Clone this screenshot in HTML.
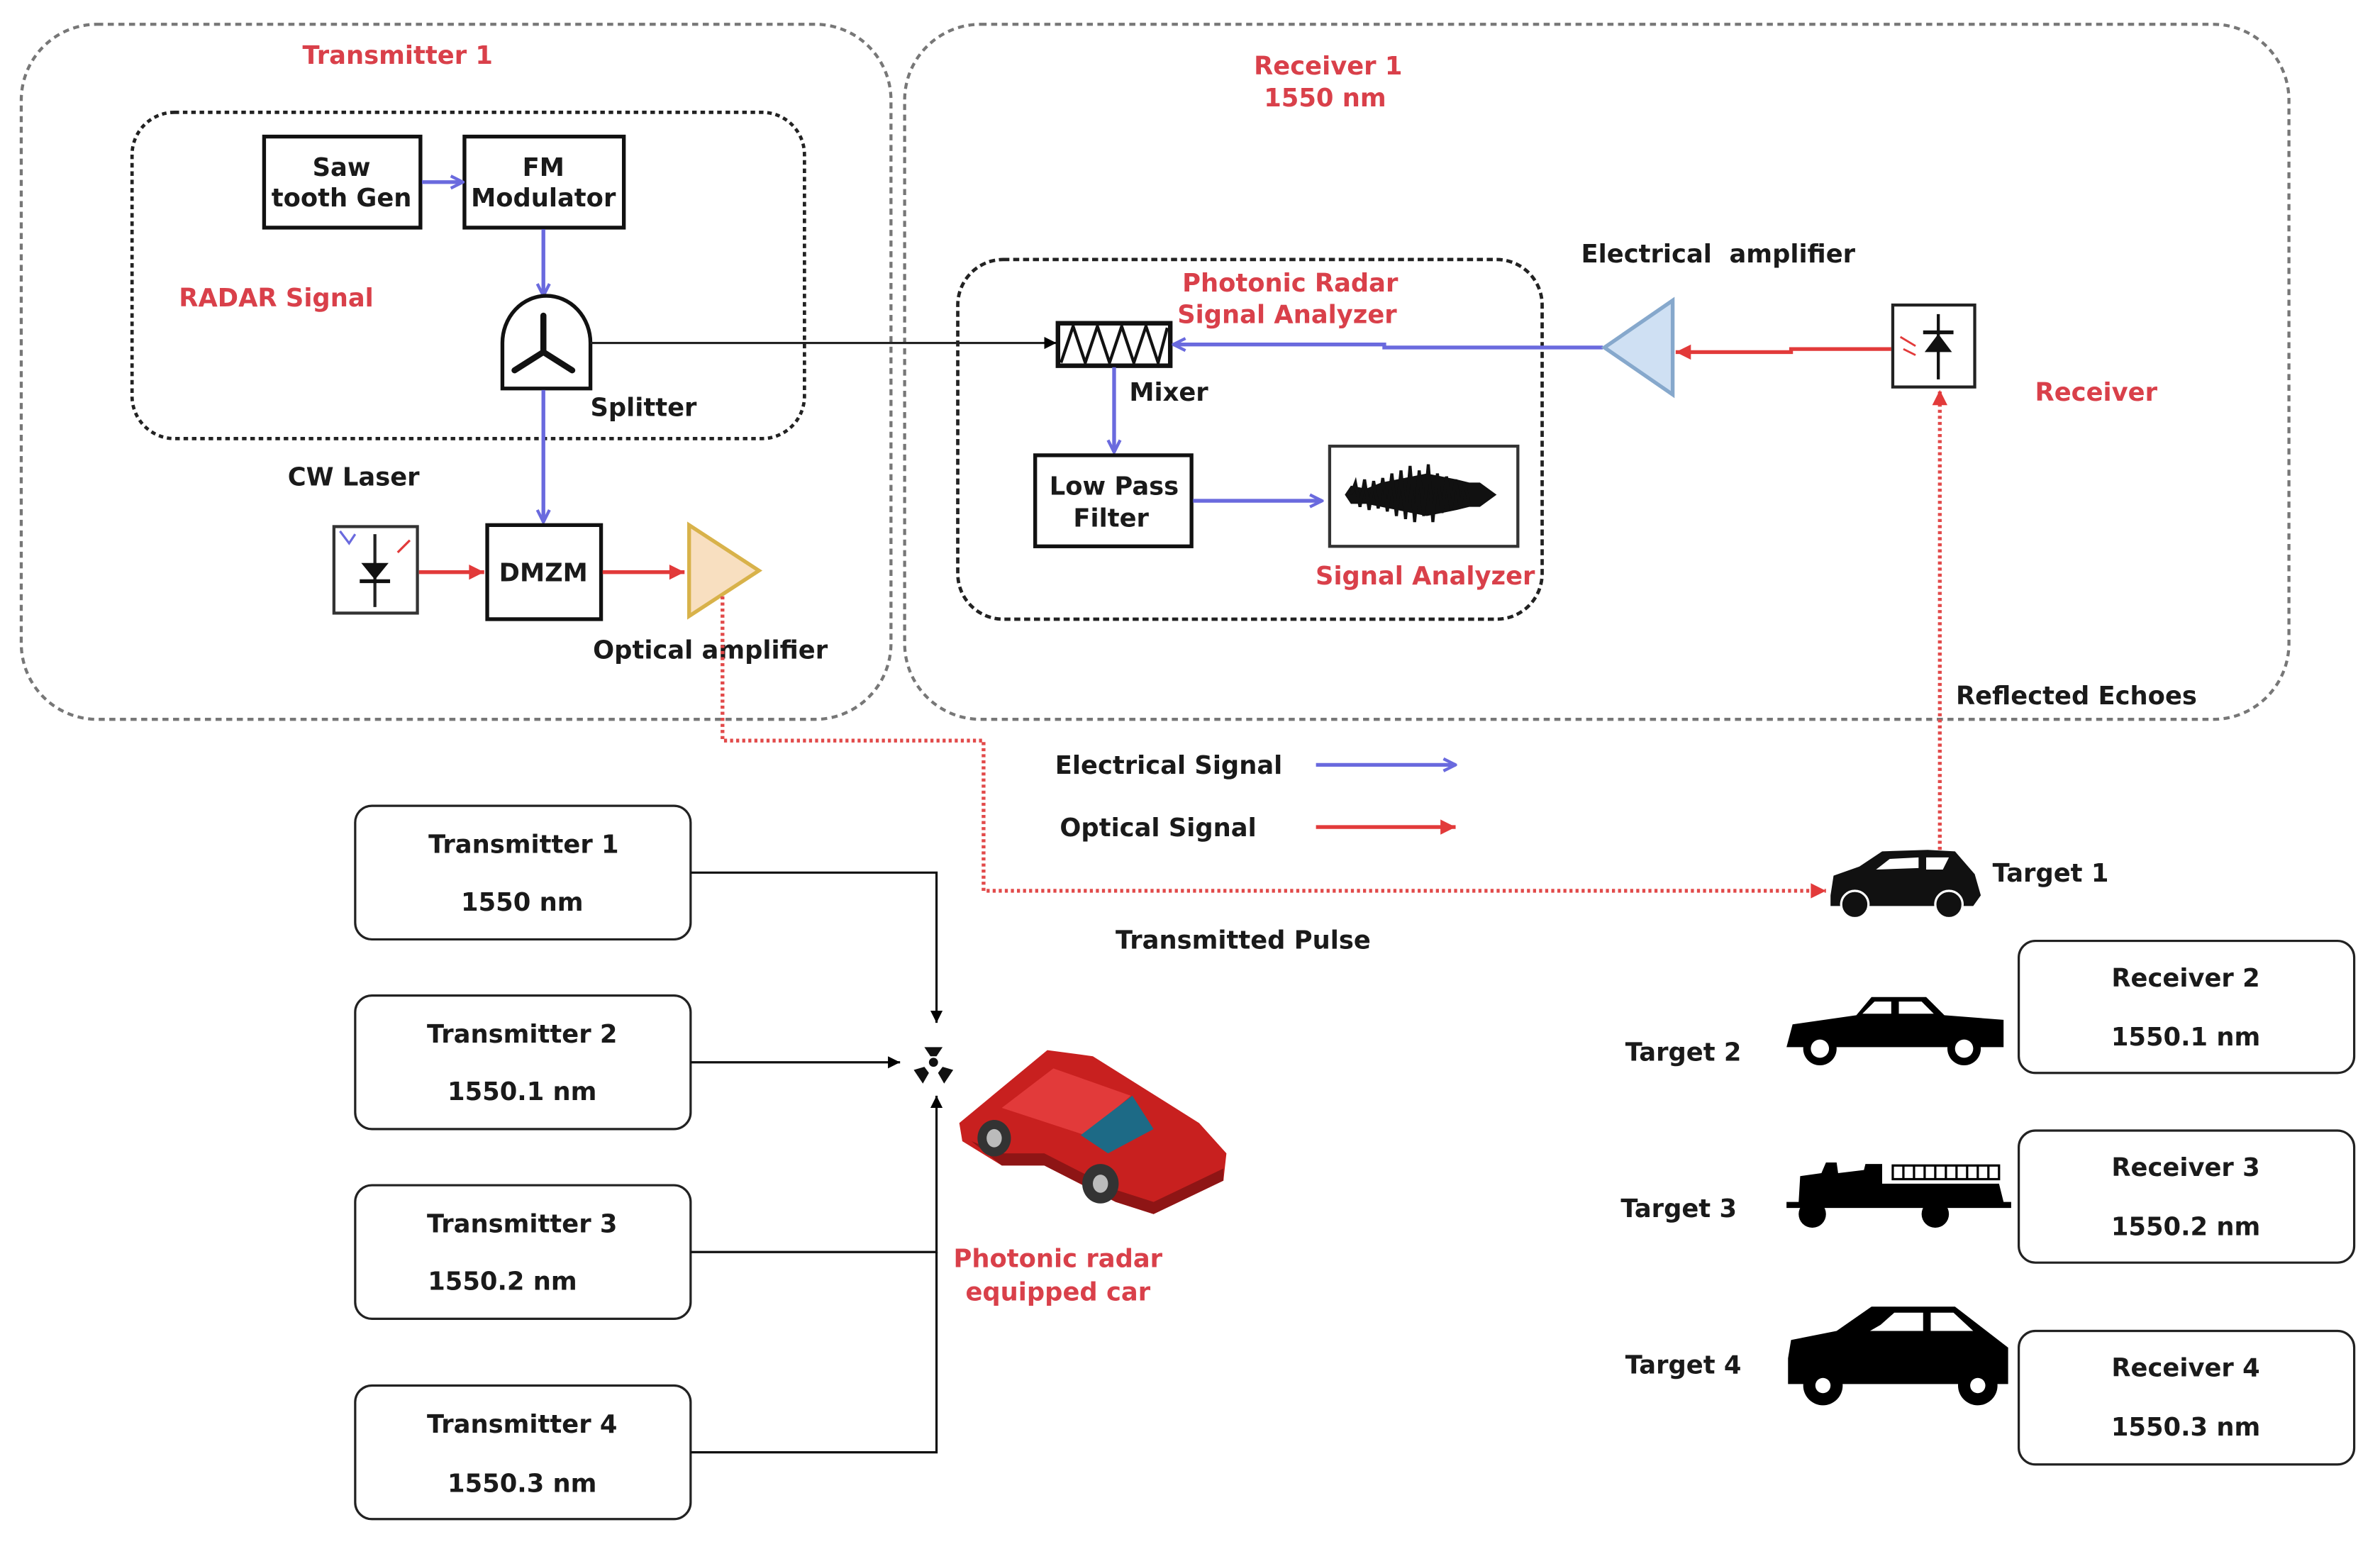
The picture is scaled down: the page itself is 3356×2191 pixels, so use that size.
<!DOCTYPE html>
<html><head><meta charset="utf-8"><style>
html,body{margin:0;padding:0;background:#fff;}
svg{display:block;}
text{font-family:"DejaVu Sans","Liberation Sans",sans-serif;font-weight:bold;font-size:16.5px;fill:#1a1a1a;}
.r{fill:#d9404a;}
</style></head><body>
<svg width="3356" height="2191" viewBox="0 0 1568 1024" preserveAspectRatio="none" xmlns="http://www.w3.org/2000/svg">
<defs>
<marker id="ab" markerWidth="10" markerHeight="10" refX="9" refY="5" orient="auto" markerUnits="userSpaceOnUse"><path d="M1,1 L9,5 L1,9" fill="none" stroke="#6a6ade" stroke-width="2"/></marker>
<marker id="ar" markerWidth="12" markerHeight="12" refX="11" refY="6" orient="auto" markerUnits="userSpaceOnUse"><path d="M1,1 L11,6 L1,11 Z" fill="#e23a3a"/></marker>
<marker id="ak" markerWidth="10" markerHeight="10" refX="9" refY="5" orient="auto" markerUnits="userSpaceOnUse"><path d="M1,1 L9,5 L1,9 Z" fill="#000"/></marker>
</defs>
<rect width="1568" height="1024" fill="#fff"/>
<rect x="14" y="16" width="573" height="458" rx="50" fill="none" stroke="#777" stroke-width="2" stroke-dasharray="4 3"/>
<rect x="596" y="16" width="912" height="458" rx="50" fill="none" stroke="#777" stroke-width="2" stroke-dasharray="4 3"/>
<rect x="87" y="74" width="443" height="215" rx="28" fill="none" stroke="#222" stroke-width="2.2" stroke-dasharray="3 2.5"/>
<rect x="631" y="171" width="385" height="237" rx="30" fill="none" stroke="#222" stroke-width="2.2" stroke-dasharray="4 2.5"/>
<text x="262" y="42" text-anchor="middle" class="r">Transmitter 1</text>
<text x="182" y="202" text-anchor="middle" class="r">RADAR Signal</text>
<text x="875" y="49" text-anchor="middle" class="r">Receiver 1</text>
<text x="873" y="70" text-anchor="middle" class="r">1550 nm</text>
<text x="850" y="192" text-anchor="middle" class="r">Photonic Radar</text>
<text x="848" y="213" text-anchor="middle" class="r">Signal Analyzer</text>
<rect x="174" y="90" width="103" height="60" fill="#fff" stroke="#111" stroke-width="2.5"/>
<text x="225" y="116" text-anchor="middle">Saw</text><text x="225" y="136" text-anchor="middle">tooth Gen</text>
<rect x="306" y="90" width="105" height="60" fill="#fff" stroke="#111" stroke-width="2.5"/>
<text x="358" y="116" text-anchor="middle">FM</text><text x="358" y="136" text-anchor="middle">Modulator</text>
<line x1="278" y1="120" x2="305" y2="120" stroke="#6a6ade" stroke-width="2.5" marker-end="url(#ab)"/>
<line x1="358" y1="151" x2="358" y2="195" stroke="#6a6ade" stroke-width="2.5" marker-end="url(#ab)"/>
<path d="M331,256 L331,226 A28,30 0 0 1 389,226 L389,256 Z" fill="#fff" stroke="#111" stroke-width="2.5"/>
<path d="M358,232 L358,208 M358,232 L339,244 M358,232 L377,244" stroke="#111" stroke-width="4" stroke-linecap="round"/>
<line x1="389" y1="226" x2="696" y2="226" stroke="#222" stroke-width="1.5" marker-end="url(#ak)"/>
<text x="424" y="274" text-anchor="middle">Splitter</text>
<line x1="358" y1="257" x2="358" y2="344" stroke="#6a6ade" stroke-width="2.5" marker-end="url(#ab)"/>
<text x="233" y="320" text-anchor="middle">CW Laser</text>
<rect x="220" y="347" width="55" height="57" fill="#fff" stroke="#333" stroke-width="2"/>
<line x1="247" y1="352" x2="247" y2="400" stroke="#222" stroke-width="2"/>
<path d="M238,371 L256,371 L247,382 Z" fill="#111"/><line x1="237" y1="383" x2="257" y2="383" stroke="#111" stroke-width="2.5"/>
<path d="M224,350 L230,358 L234,352" stroke="#6a6ade" fill="none" stroke-width="1.5"/>
<path d="M262,364 L270,356" stroke="#e23a3a" stroke-width="1.5"/>
<line x1="276" y1="377" x2="319" y2="377" stroke="#e23a3a" stroke-width="2.5" marker-end="url(#ar)"/>
<rect x="321" y="346" width="75" height="62" fill="#fff" stroke="#111" stroke-width="2.5"/>
<text x="358" y="383" text-anchor="middle">DMZM</text>
<line x1="397" y1="377" x2="451" y2="377" stroke="#e23a3a" stroke-width="2.5" marker-end="url(#ar)"/>
<path d="M454,346 L454,406 L500,376 Z" fill="#f8dfc0" stroke="#d8b24a" stroke-width="2.5"/>
<text x="468" y="434" text-anchor="middle">Optical amplifier</text>
<path d="M476,393 L476,488 L648,488 L648,587 L1203,587" fill="none" stroke="#e24a4a" stroke-width="2.5" stroke-dasharray="2 2" marker-end="url(#ar)"/>
<rect x="697" y="213" width="74" height="28" fill="#fff" stroke="#111" stroke-width="3"/>
<path d="M699,239 L707,215 L715,239 L723,215 L731,239 L739,215 L747,239 L755,215 L763,239 L769,216" fill="none" stroke="#111" stroke-width="2"/>
<text x="770" y="264" text-anchor="middle">Mixer</text>
<path d="M1056,229 L912,229 L912,227 L773,227" fill="none" stroke="#6a6ade" stroke-width="2.5" marker-end="url(#ab)"/>
<path d="M1102,198 L1102,260 L1057,229 Z" fill="#cfe0f3" stroke="#86a8cc" stroke-width="2.5"/>
<text x="1132" y="173" text-anchor="middle" xml:space="preserve">Electrical  amplifier</text>
<rect x="1247" y="201" width="54" height="54" fill="#fff" stroke="#222" stroke-width="2"/>
<line x1="1277" y1="207" x2="1277" y2="250" stroke="#111" stroke-width="2"/>
<path d="M1268,232 L1286,232 L1277,220 Z" fill="#111"/><line x1="1267" y1="219" x2="1287" y2="219" stroke="#111" stroke-width="2.5"/>
<path d="M1252,222 L1262,228 M1254,230 L1262,234" stroke="#e23a3a" stroke-width="1.3"/>
<path d="M1246,230 L1180,230 L1180,232 L1104,232" fill="none" stroke="#e23a3a" stroke-width="2.5" marker-end="url(#ar)"/>
<text x="1381" y="264" text-anchor="middle" class="r">Receiver</text>
<path d="M1278,560 L1278,257" fill="none" stroke="#e24a4a" stroke-width="2.5" stroke-dasharray="2 2" marker-end="url(#ar)"/>
<text x="1368" y="464" text-anchor="middle">Reflected Echoes</text>
<line x1="734" y1="242" x2="734" y2="298" stroke="#6a6ade" stroke-width="2.5" marker-end="url(#ab)"/>
<rect x="682" y="300" width="103" height="60" fill="#fff" stroke="#111" stroke-width="2.5"/>
<text x="734" y="326" text-anchor="middle">Low Pass</text><text x="732" y="347" text-anchor="middle">Filter</text>
<line x1="786" y1="330" x2="871" y2="330" stroke="#6a6ade" stroke-width="2.5" marker-end="url(#ab)"/>
<rect x="876" y="294" width="124" height="66" fill="#fff" stroke="#333" stroke-width="2"/>
<path d="M886,326 L890,320 L900,322 L910,318 L920,316 L930,314 L940,312 L950,314 L960,316 L968,318 L975,318 L986,326 L975,334 L968,334 L960,336 L950,338 L940,340 L930,338 L920,336 L910,334 L900,332 L890,332 Z" fill="#111"/>
<path d="M890,326 L893,318 L896,334 L899,316 L902,336 L905,317 L908,335 L911,315 L914,337 L917,312 L920,340 L923,310 L926,342 L929,307 L932,344 L935,310 L938,340 L941,306 L944,344 L947,312 L950,338 L953,314 L956,336 L959,316 L962,334 L965,318 L968,332" fill="none" stroke="#111" stroke-width="2"/>
<text x="939" y="385" text-anchor="middle" class="r">Signal Analyzer</text>
<text x="770" y="510" text-anchor="middle">Electrical Signal</text>
<line x1="867" y1="504" x2="959" y2="504" stroke="#6a6ade" stroke-width="2.5" marker-end="url(#ab)"/>
<text x="763" y="551" text-anchor="middle">Optical Signal</text>
<line x1="867" y1="545" x2="959" y2="545" stroke="#e23a3a" stroke-width="2.5" marker-end="url(#ar)"/>
<text x="819" y="625" text-anchor="middle">Transmitted Pulse</text>
<path d="M1206,590 L1208,577 L1225,571 L1240,561 L1270,560 L1288,561 L1301,576 L1305,590 L1300,597 L1206,597 Z" fill="#111"/>
<path d="M1245,566 L1264,565 L1264,572 L1236,573 Z M1269,565 L1284,565 L1280,573 L1269,573 Z" fill="#fff"/>
<circle cx="1222" cy="596" r="9" fill="#111" stroke="#fff" stroke-width="1.5"/><circle cx="1284" cy="596" r="9" fill="#111" stroke="#fff" stroke-width="1.5"/>
<text x="1351" y="581" text-anchor="middle">Target 1</text>
<g fill="#fff" stroke="#222" stroke-width="1.5">
<rect x="234" y="531" width="221" height="88" rx="11"/>
<rect x="234" y="656" width="221" height="88" rx="11"/>
<rect x="234" y="781" width="221" height="88" rx="11"/>
<rect x="234" y="913" width="221" height="88" rx="11"/>
<rect x="1330" y="620" width="221" height="87" rx="11"/>
<rect x="1330" y="745" width="221" height="87" rx="11"/>
<rect x="1330" y="877" width="221" height="88" rx="11"/>
</g>
<text x="345" y="562" text-anchor="middle">Transmitter 1</text><text x="344" y="600" text-anchor="middle">1550 nm</text>
<text x="344" y="687" text-anchor="middle">Transmitter 2</text><text x="344" y="725" text-anchor="middle">1550.1 nm</text>
<text x="344" y="812" text-anchor="middle">Transmitter 3</text><text x="331" y="850" text-anchor="middle">1550.2 nm</text>
<text x="344" y="944" text-anchor="middle">Transmitter 4</text><text x="344" y="983" text-anchor="middle">1550.3 nm</text>
<text x="1440" y="650" text-anchor="middle">Receiver 2</text><text x="1440" y="689" text-anchor="middle">1550.1 nm</text>
<text x="1440" y="775" text-anchor="middle">Receiver 3</text><text x="1440" y="814" text-anchor="middle">1550.2 nm</text>
<text x="1440" y="907" text-anchor="middle">Receiver 4</text><text x="1440" y="946" text-anchor="middle">1550.3 nm</text>
<g fill="none" stroke="#111" stroke-width="1.5">
<path d="M455,575 L617,575 L617,674" marker-end="url(#ak)"/>
<path d="M455,700 L593,700" marker-end="url(#ak)"/>
<path d="M455,825 L617,825 L617,722" marker-end="url(#ak)"/>
<path d="M455,957 L617,957 L617,825"/>
</g>
<circle cx="615" cy="700" r="3" fill="#111"/>
<path d="M609,690 L621,690 L617,696 L613,696 Z M602,705 L608,714 L612,707 L609,703 Z M628,705 L622,714 L618,707 L621,703 Z" fill="#111"/>
<path d="M632,740 L690,692 L720,696 L790,740 L808,760 L806,778 L760,800 L735,792 L688,768 L660,768 L634,752 Z" fill="#c8201f"/>
<path d="M660,730 L694,704 L745,722 L715,748 Z" fill="#e23a3a"/>
<path d="M712,748 L746,722 L760,744 L730,760 Z" fill="#1d6a86"/>
<path d="M640,752 L660,768 L688,768 L735,792 L760,800 L806,778 L806,770 L760,792 L735,784 L688,760 L660,760 Z" fill="#8e1515"/>
<ellipse cx="655" cy="750" rx="11" ry="12" fill="#333"/><ellipse cx="725" cy="780" rx="12" ry="13" fill="#333"/>
<ellipse cx="655" cy="750" rx="5" ry="6" fill="#bbb"/><ellipse cx="725" cy="780" rx="5" ry="6" fill="#bbb"/>
<text x="697" y="835" text-anchor="middle" class="r">Photonic radar</text>
<text x="697" y="857" text-anchor="middle" class="r">equipped car</text>
<text x="1109" y="699" text-anchor="middle">Target 2</text>
<path d="M1177,690 L1181,675 L1223,669 L1233,657 L1269,657 L1281,669 L1320,672 L1320,690 Z" fill="#000"/>
<path d="M1227,668 L1235,660 L1246,660 L1246,668 Z M1251,660 L1266,660 L1274,668 L1251,668 Z" fill="#fff"/>
<circle cx="1199" cy="691" r="11" fill="#000"/><circle cx="1199" cy="691" r="6" fill="#fff"/>
<circle cx="1294" cy="691" r="11" fill="#000"/><circle cx="1294" cy="691" r="6" fill="#fff"/>
<text x="1106" y="802" text-anchor="middle">Target 3</text>
<path d="M1177,792 L1185,792 L1186,775 L1200,773 L1203,766 L1210,766 L1211,773 L1228,771 L1229,767 L1240,767 L1240,780 L1317,780 L1320,792 L1325,792 L1325,796 L1177,796 Z" fill="#000"/>
<circle cx="1194" cy="800" r="9" fill="#000"/><circle cx="1275" cy="800" r="9" fill="#000"/>
<rect x="1247" y="768" width="70" height="9" fill="none" stroke="#000" stroke-width="1.5"/>
<path d="M1254,768 V777 M1261,768 V777 M1268,768 V777 M1275,768 V777 M1282,768 V777 M1289,768 V777 M1296,768 V777 M1303,768 V777 M1310,768 V777" stroke="#000" stroke-width="1.5"/>
<text x="1109" y="905" text-anchor="middle">Target 4</text>
<path d="M1178,895 L1180,883 L1210,877 L1233,861 L1288,861 L1323,888 L1323,912 L1178,912 Z" fill="#000"/>
<path d="M1239,873 L1248,865 L1267,865 L1267,877 L1232,877 Z M1272,865 L1287,865 L1300,877 L1272,877 Z" fill="#fff"/>
<circle cx="1201" cy="913" r="13" fill="#000"/><circle cx="1201" cy="913" r="5" fill="#fff"/>
<circle cx="1303" cy="913" r="13" fill="#000"/><circle cx="1303" cy="913" r="5" fill="#fff"/>
</svg>
</body></html>
